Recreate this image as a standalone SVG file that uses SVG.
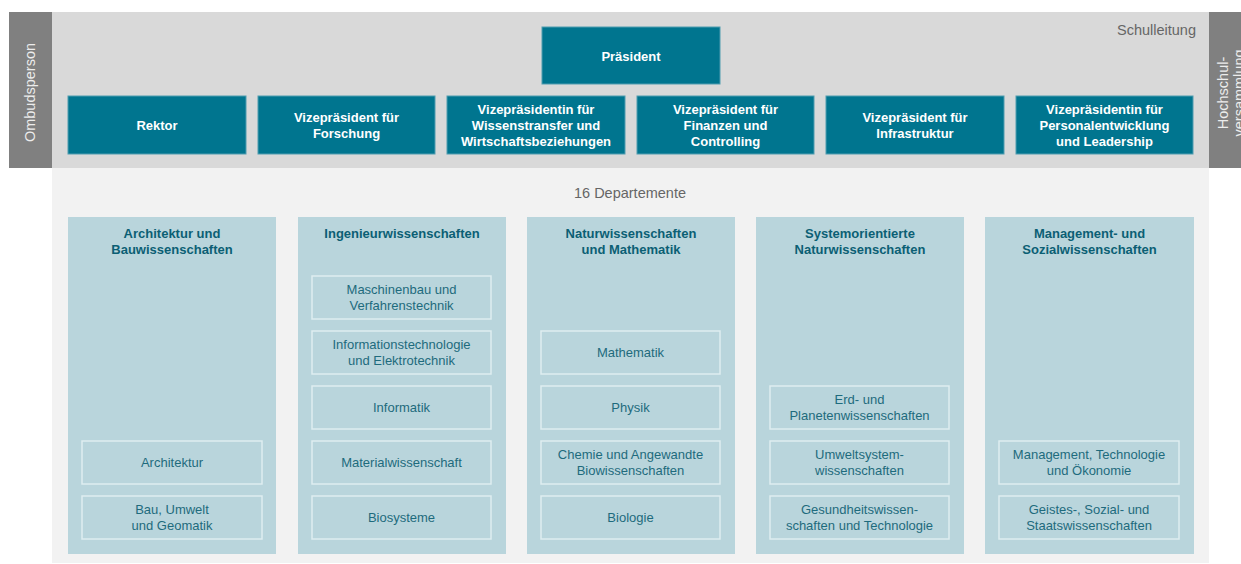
<svg xmlns="http://www.w3.org/2000/svg" width="1241" height="564" viewBox="0 0 1241 564">
<style>
text{font-family:"Liberation Sans",Arial,sans-serif;}
.lead rect{fill:#00758f;stroke:#4f9db0;stroke-width:1;}
.lead text{fill:#ffffff;font-size:13px;font-weight:bold;text-anchor:middle;}
.col{fill:#b9d5dc;}
.hd{fill:#0b5f74;font-size:13px;font-weight:bold;text-anchor:middle;}
.sub rect{fill:none;stroke:#deedf0;stroke-width:1.5;}
.sub text{fill:#1e6b7d;font-size:13px;text-anchor:middle;}
.side{fill:#808080;}
.sidet{fill:#ececec;font-size:14.5px;text-anchor:middle;}
.lbl{fill:#666666;font-size:14.5px;}
</style>
<rect x="0" y="0" width="1241" height="564" fill="#ffffff"/>
<rect x="52" y="12" width="1157" height="156" fill="#d9d9d9"/>
<rect x="52" y="168" width="1157" height="395" fill="#f2f2f2"/>
<g id="ombudsperson">
<rect class="side" x="9" y="12" width="43" height="156"/>
<text class="sidet" transform="translate(35,92.5) rotate(-90)">Ombudsperson</text>
</g>
<g id="hochschulversammlung">
<rect class="side" x="1209" y="12" width="40" height="156"/>
<text class="sidet" transform="translate(1228,93) rotate(-90)">Hochschul-</text>
<text class="sidet" transform="translate(1244,93) rotate(-90)">versammlung</text>
</g>
<text class="lbl" x="1196" y="35" text-anchor="end">Schulleitung</text>
<text class="lbl" x="630" y="198" text-anchor="middle" fill="#555555" font-size="14">16 Departemente</text>
<g id="connectors"></g>
<g id="praesident" class="lead"><rect x="542" y="27" width="178" height="57"/><text x="631" y="60.5">Präsident</text></g>
<g id="rektor" class="lead"><rect x="68" y="96" width="178" height="58"/><text x="157" y="129.5">Rektor</text></g>
<g id="vp-forschung" class="lead"><rect x="258" y="96" width="177" height="58"/><text x="346.5" y="121.5">Vizepräsident für</text><text x="346.5" y="137.5">Forschung</text></g>
<g id="vp-wissenstransfer" class="lead"><rect x="447" y="96" width="178" height="58"/><text x="536" y="113.5">Vizepräsidentin für</text><text x="536" y="129.5">Wissenstransfer und</text><text x="536" y="145.5">Wirtschaftsbeziehungen</text></g>
<g id="vp-finanzen" class="lead"><rect x="637" y="96" width="177" height="58"/><text x="725.5" y="113.5">Vizepräsident für</text><text x="725.5" y="129.5">Finanzen und</text><text x="725.5" y="145.5">Controlling</text></g>
<g id="vp-infrastruktur" class="lead"><rect x="826" y="96" width="178" height="58"/><text x="915" y="121.5">Vizepräsident für</text><text x="915" y="137.5">Infrastruktur</text></g>
<g id="vp-personal" class="lead"><rect x="1016" y="96" width="177" height="58"/><text x="1104.5" y="113.5">Vizepräsidentin für</text><text x="1104.5" y="129.5">Personalentwicklung</text><text x="1104.5" y="145.5">und Leadership</text></g>

<g id="bereich-architektur">
<rect class="col" x="68" y="217" width="208" height="337"/>
<text class="hd" x="172" y="237.5">Architektur und</text><text class="hd" x="172" y="253.5">Bauwissenschaften</text>
<g id="d-arch" class="sub"><rect x="82" y="441" width="180" height="43"/><text x="172" y="467">Architektur</text></g>
<g id="d-baug" class="sub"><rect x="82" y="496" width="180" height="43"/><text x="172" y="514">Bau, Umwelt</text><text x="172" y="530">und Geomatik</text></g>
</g>
<g id="bereich-ingenieur">
<rect class="col" x="298" y="217" width="208" height="337"/>
<text class="hd" x="402" y="237.5">Ingenieurwissenschaften</text>
<g id="d-mavt" class="sub"><rect x="312" y="276" width="179" height="43"/><text x="401.5" y="294">Maschinenbau und</text><text x="401.5" y="310">Verfahrenstechnik</text></g>
<g id="d-itet" class="sub"><rect x="312" y="331" width="179" height="43"/><text x="401.5" y="349">Informationstechnologie</text><text x="401.5" y="365">und Elektrotechnik</text></g>
<g id="d-infk" class="sub"><rect x="312" y="386" width="179" height="43"/><text x="401.5" y="412">Informatik</text></g>
<g id="d-matl" class="sub"><rect x="312" y="441" width="179" height="43"/><text x="401.5" y="467">Materialwissenschaft</text></g>
<g id="d-bsse" class="sub"><rect x="312" y="496" width="179" height="43"/><text x="401.5" y="522">Biosysteme</text></g>
</g>
<g id="bereich-natur">
<rect class="col" x="527" y="217" width="208" height="337"/>
<text class="hd" x="631" y="237.5">Naturwissenschaften</text><text class="hd" x="631" y="253.5">und Mathematik</text>
<g id="d-math" class="sub"><rect x="541" y="331" width="179" height="43"/><text x="630.5" y="357">Mathematik</text></g>
<g id="d-phys" class="sub"><rect x="541" y="386" width="179" height="43"/><text x="630.5" y="412">Physik</text></g>
<g id="d-chab" class="sub"><rect x="541" y="441" width="179" height="43"/><text x="630.5" y="459">Chemie und Angewandte</text><text x="630.5" y="475">Biowissenschaften</text></g>
<g id="d-biol" class="sub"><rect x="541" y="496" width="179" height="43"/><text x="630.5" y="522">Biologie</text></g>
</g>
<g id="bereich-system">
<rect class="col" x="756" y="217" width="208" height="337"/>
<text class="hd" x="860" y="237.5">Systemorientierte</text><text class="hd" x="860" y="253.5">Naturwissenschaften</text>
<g id="d-erdw" class="sub"><rect x="770" y="386" width="179" height="43"/><text x="859.5" y="404">Erd- und</text><text x="859.5" y="420">Planetenwissenschaften</text></g>
<g id="d-usys" class="sub"><rect x="770" y="441" width="179" height="43"/><text x="859.5" y="459">Umweltsystem-</text><text x="859.5" y="475">wissenschaften</text></g>
<g id="d-hest" class="sub"><rect x="770" y="496" width="179" height="43"/><text x="859.5" y="514">Gesundheitswissen-</text><text x="859.5" y="530">schaften und Technologie</text></g>
</g>
<g id="bereich-management">
<rect class="col" x="985" y="217" width="209" height="337"/>
<text class="hd" x="1089.5" y="237.5">Management- und</text><text class="hd" x="1089.5" y="253.5">Sozialwissenschaften</text>
<g id="d-mtec" class="sub"><rect x="999" y="441" width="180" height="43"/><text x="1089" y="459">Management, Technologie</text><text x="1089" y="475">und Ökonomie</text></g>
<g id="d-gess" class="sub"><rect x="999" y="496" width="180" height="43"/><text x="1089" y="514">Geistes-, Sozial- und</text><text x="1089" y="530">Staatswissenschaften</text></g>
</g>
</svg>
